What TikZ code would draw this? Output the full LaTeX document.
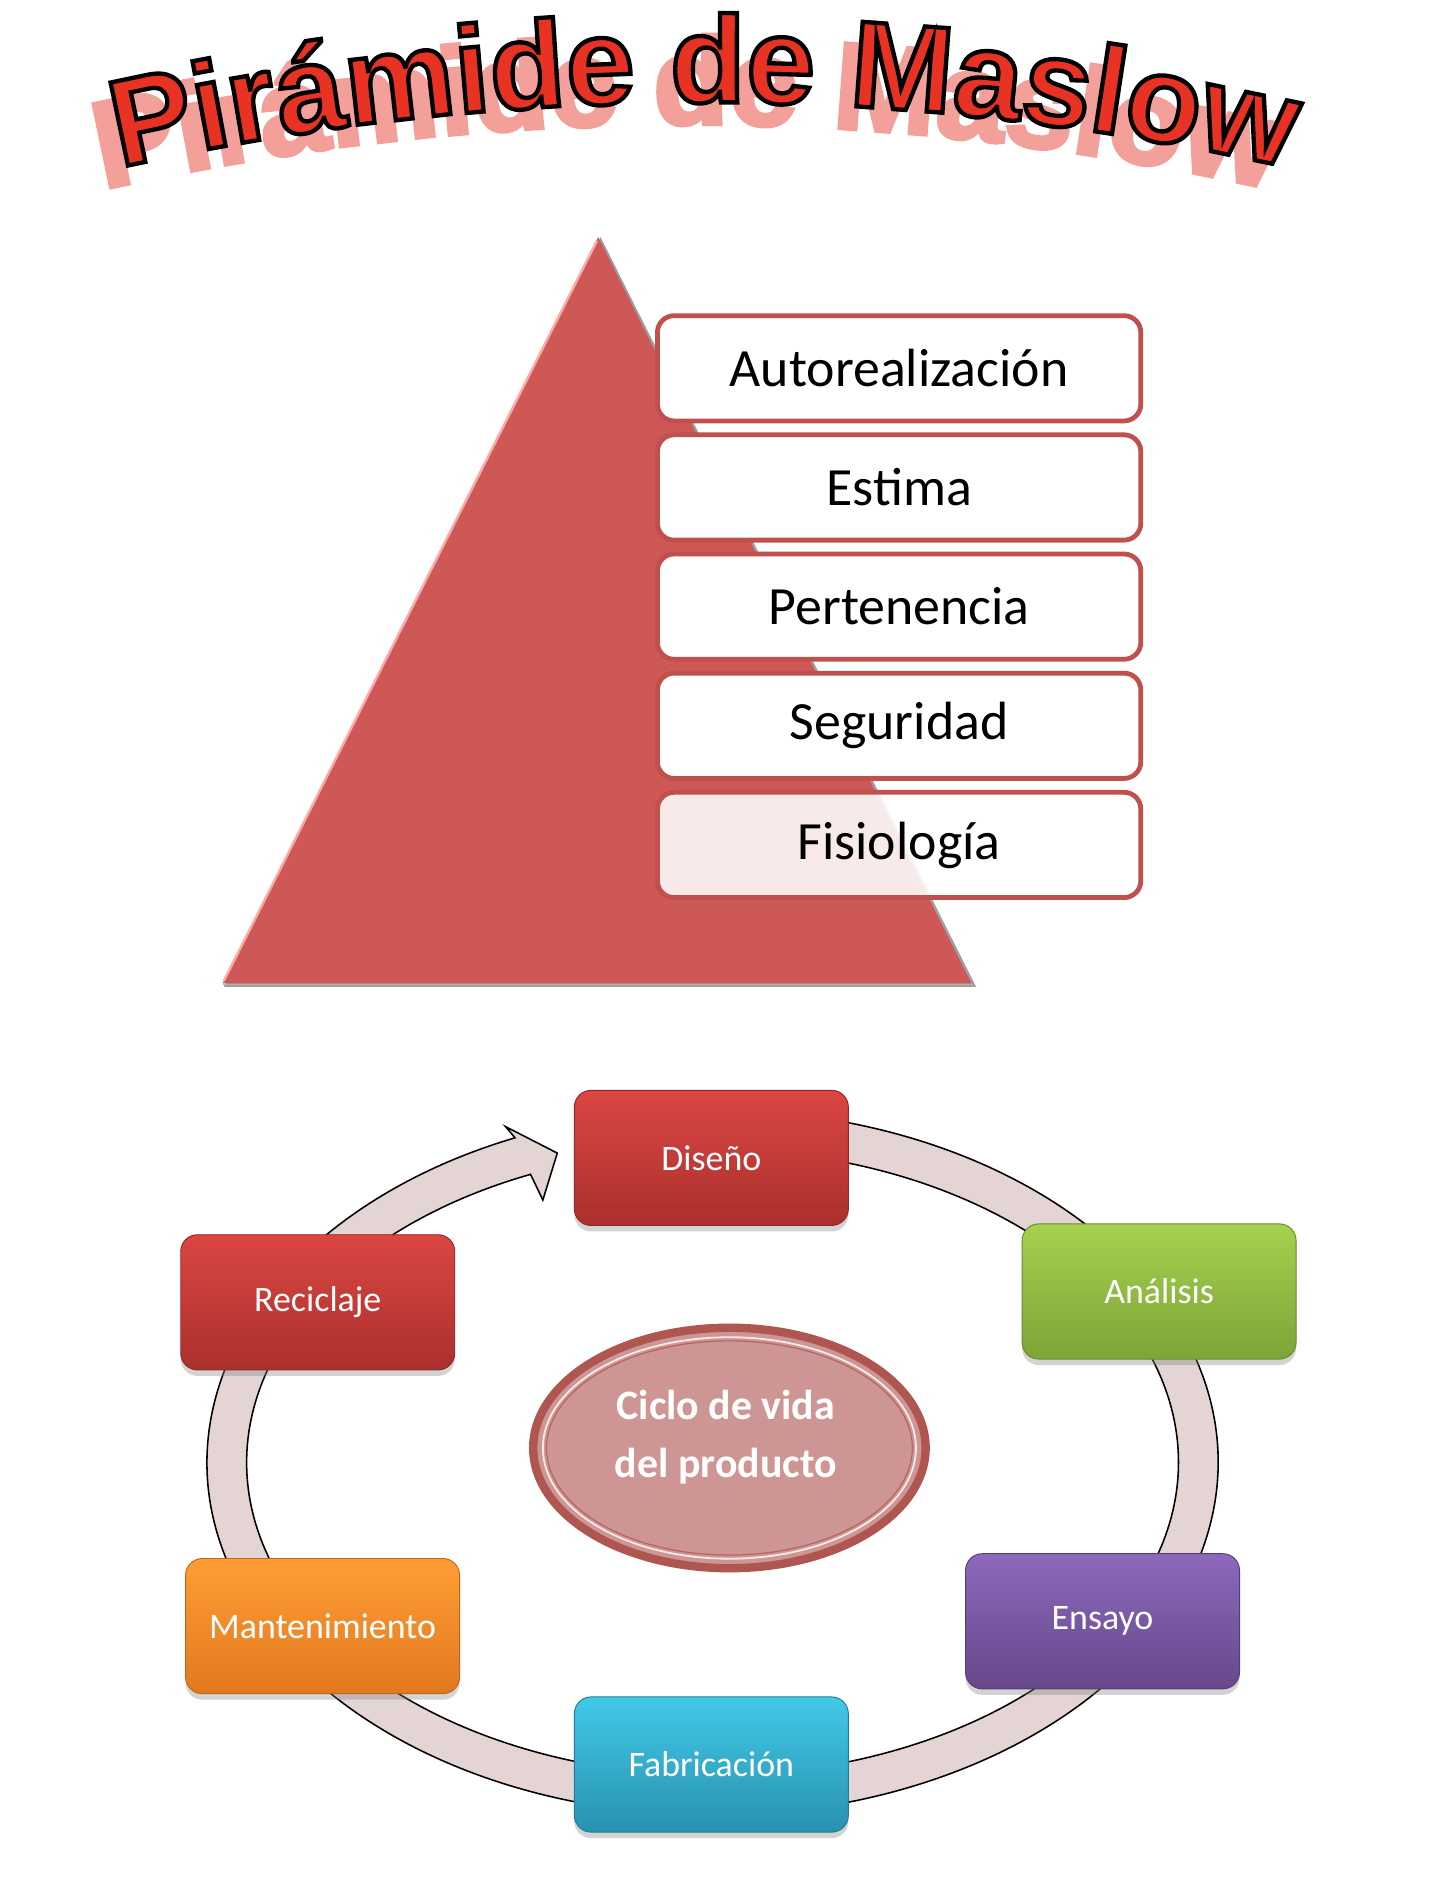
\documentclass[tikz,border=0pt]{standalone}
\usepackage{fontspec}
\setmainfont{Carlito}
\newfontfamily\titlefont{Liberation Sans Bold}[FakeBold=3.5]
\usetikzlibrary{decorations.text,shapes.geometric,shadows}
\definecolor{titlered}{RGB}{232,51,36}
\definecolor{titlepink}{RGB}{243,160,154}
\definecolor{trired}{RGB}{206,88,85}
\definecolor{boxline}{RGB}{192,80,77}
\definecolor{ringfill}{RGB}{228,212,212}
\definecolor{ctrfill}{RGB}{205,150,148}
\definecolor{ctrline}{RGB}{176,86,80}
\definecolor{redtop}{RGB}{219,70,66}
\definecolor{redbot}{RGB}{170,48,45}
\definecolor{greentop}{RGB}{165,209,78}
\definecolor{greenbot}{RGB}{124,164,55}
\definecolor{purptop}{RGB}{140,105,188}
\definecolor{purpbot}{RGB}{102,72,138}
\definecolor{cyantop}{RGB}{66,200,232}
\definecolor{cyanbot}{RGB}{40,146,176}
\definecolor{orgtop}{RGB}{255,157,52}
\definecolor{orgbot}{RGB}{226,121,32}
\tikzset{
  levelbox/.style={draw=boxline, line width=4pt, fill=white, rounded corners=14pt,
    minimum width=404pt, minimum height=88pt, inner sep=0pt,
    font=\fontsize{45}{50}\selectfont},
  cbox/.style 2 args={rounded corners=14pt, minimum width=229pt, minimum height=113pt,
    inner sep=0pt, top color=#1, bottom color=#2, draw=#2!85!black, line width=0.8pt,
    drop shadow={opacity=0.35, shadow xshift=0pt, shadow yshift=-5pt},
    text=white, font=\fontsize{30}{36}\selectfont},
  titletext/.style={decorate, decoration={text along path, text align=center,
    text={|\titlefont\fontsize{103}{103}\selectfont#1|Pirámide de Maslow}}}
}
\begin{document}
\begin{tikzpicture}[x=1.006pt,y=1.006pt]
\useasboundingbox (0pt,0pt) rectangle (1200pt,-1578pt);

% ---------- title ----------
\begin{scope}[shift={(-14,-18)}]
  \path[titletext={\color{titlepink}}] ([shift={(105:2200)}]585,-2285) arc[start angle=105, end angle=75, radius=2200];
\end{scope}
\path[titletext={\color{titlered}\special{pdf:literal direct 0 0 0 RG}}] ([shift={(105:2200)}]585,-2285) arc[start angle=105, end angle=75, radius=2200];

% ---------- pyramid ----------
\fill[gray!75] (499,-197) -- (811,-820) -- (186,-820) -- cycle;
\fill[trired] (497,-197) -- (807,-817) -- (185,-817) -- cycle;
\draw[line width=2pt, red!35!white] (186,-815) -- (496,-200);
\draw[line width=1.5pt, gray!60] (185,-818) -- (808,-818);

\node[levelbox] (autor) at (747,-306) {Autorealización};
\node[levelbox] (estima) at (747,-405) {Estima};
\node[levelbox] (perten) at (747,-504) {Pertenencia};
\node[levelbox] (segur) at (747,-603) {Seguridad};
\node[levelbox, fill opacity=0.88, text opacity=1] (fisio) at (747,-702) {Fisiología};

% ---------- cycle ring ----------
\draw[fill=ringfill, line width=1.3pt, line join=miter]
  ([shift={(78:420 and 293)}]592,-1215)
  arc[start angle=78, end angle=-247, x radius=420, y radius=293]
  -- (420,-936) -- (463,-958) -- (451,-997)
  -- ([shift={(-247:387 and 260)}]592,-1215)
  arc[start angle=-247, end angle=78, x radius=387, y radius=260]
  -- cycle;

\node[cbox={redtop}{redbot}] (diseno) at (591,-962) {Diseño};
\node[cbox={greentop}{greenbot}] (analisis) at (963,-1073) {Análisis};
\node[cbox={purptop}{purpbot}] (ensayo) at (916,-1347) {Ensayo};
\node[cbox={cyantop}{cyanbot}] (fabric) at (591,-1466) {Fabricación};
\node[cbox={orgtop}{orgbot}] (manten) at (268,-1351) {Mantenimiento};
\node[cbox={redtop}{redbot}] (recic) at (264,-1082) {Reciclaje};

% ---------- centre ----------
\node[ellipse, fill=ctrfill, draw=ctrline, line width=7pt,
  minimum width=328pt, minimum height=201pt, inner sep=0pt] (ctr) at (606,-1203) {};
\draw[white!80!ctrfill, line width=1.5pt] (ctr.center) ellipse [x radius=155, y radius=92];
\draw[ctrline!80!ctrfill, line width=1pt] (ctr.center) ellipse [x radius=152, y radius=89];
\node[text=white, align=center, font=\bfseries\fontsize{35}{49}\selectfont] (ctrtext) at (603,-1194)
  {Ciclo de vida\\del producto};
\end{tikzpicture}
\end{document}
